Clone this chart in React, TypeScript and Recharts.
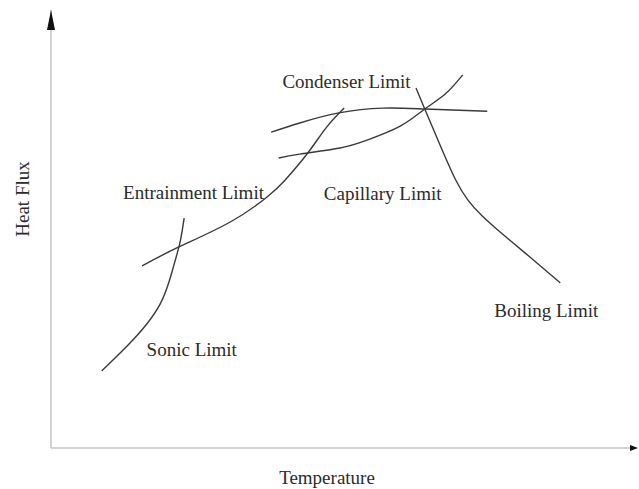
import React from 'react';
import {
  LineChart,
  Line,
  XAxis,
  YAxis,
  ReferenceDot,
  Label,
} from 'recharts';

// each limit curve (temperature 0-100, heat flux 0-100)
const sonicLimit = [
  { x: 8.7, y: 17.6 },
  { x: 13.2, y: 23.5 },
  { x: 16.4, y: 28.3 },
  { x: 18.7, y: 32.9 },
  { x: 20.2, y: 37.9 },
  { x: 21.2, y: 42.5 },
  { x: 22.1, y: 47.0 },
  { x: 22.8, y: 52.5 },
];

const entrainmentLimit = [
  { x: 15.6, y: 41.6 },
  { x: 21.9, y: 45.9 },
  { x: 30.7, y: 51.6 },
  { x: 37.0, y: 57.3 },
  { x: 40.1, y: 61.2 },
  { x: 44.0, y: 67.4 },
  { x: 47.1, y: 73.1 },
  { x: 50.2, y: 77.6 },
];

const condenserLimit = [
  { x: 37.7, y: 72.1 },
  { x: 42.6, y: 74.2 },
  { x: 49.3, y: 76.5 },
  { x: 56.8, y: 77.6 },
  { x: 64.0, y: 77.4 },
  { x: 74.7, y: 76.9 },
];

const capillaryLimit = [
  { x: 39.0, y: 66.2 },
  { x: 42.6, y: 67.1 },
  { x: 49.5, y: 68.5 },
  { x: 54.1, y: 70.3 },
  { x: 59.8, y: 73.5 },
  { x: 64.0, y: 77.4 },
  { x: 67.5, y: 80.8 },
  { x: 70.5, y: 85.2 },
];

const boilingLimit = [
  { x: 62.5, y: 82.2 },
  { x: 64.0, y: 77.4 },
  { x: 67.0, y: 68.0 },
  { x: 69.3, y: 61.2 },
  { x: 71.4, y: 56.6 },
  { x: 73.8, y: 53.0 },
  { x: 76.9, y: 49.3 },
  { x: 82.0, y: 43.6 },
  { x: 87.2, y: 37.7 },
];

const curveLabels = [
  { name: 'Condenser Limit', x: 50.6, y: 83.6 },
  { name: 'Entrainment Limit', x: 24.4, y: 58.4 },
  { name: 'Capillary Limit', x: 56.8, y: 58.2 },
  { name: 'Sonic Limit', x: 24.1, y: 22.6 },
  { name: 'Boiling Limit', x: 84.8, y: 31.5 },
];

const series = [sonicLimit, entrainmentLimit, condenserLimit, capillaryLimit, boilingLimit];

const FONT = '"Liberation Serif", "Times New Roman", serif';
const INK = '#2b2b2b';

const CurveLabel = ({ viewBox, value }: any) => {
  const cx = viewBox.x + viewBox.width / 2;
  const cy = viewBox.y + viewBox.height / 2;
  return (
    <text
      x={cx}
      y={cy}
      textAnchor='middle'
      dominantBaseline='central'
      fontFamily={FONT}
      fontSize={19}
      fill={INK}
    >
      {value}
    </text>
  );
};

export default function App() {
  return (
    <div style={{ position: 'absolute', left: 0, top: 0, background: '#fff' }}>
      <LineChart
        width={639}
        height={489}
        margin={{ top: 10, right: 4, bottom: 40, left: 50 }}
      >
        <defs>
          <marker
            id='arrowY'
            viewBox='0 0 20 8'
            refX={20}
            refY={4}
            markerWidth={20}
            markerHeight={8}
            markerUnits='userSpaceOnUse'
            orient='auto-start-reverse'
          >
            <path d='M0,0 L20,4 L0,8 Z' fill='#111' />
          </marker>
          <marker
            id='arrowX'
            viewBox='0 0 8 6'
            refX={5}
            refY={3}
            markerWidth={8}
            markerHeight={6}
            markerUnits='userSpaceOnUse'
            orient='auto'
          >
            <path d='M0,0 L8,3 L0,6 Z' fill='#111' />
          </marker>
        </defs>
        <XAxis
          type='number'
          dataKey='x'
          domain={[0, 100]}
          height={1}
          tick={false}
          tickLine={false}
          axisLine={{ stroke: '#c4c4c4', strokeWidth: 1.5, markerEnd: 'url(#arrowX)' }}
        >
          <Label
            content={() => (
              <text
                x={327}
                y={477}
                textAnchor='middle'
                dominantBaseline='central'
                fontFamily={FONT}
                fontSize={19}
                fill={INK}
              >
                Temperature
              </text>
            )}
          />
        </XAxis>
        <YAxis
          type='number'
          domain={[0, 100]}
          width={1}
          tick={false}
          tickLine={false}
          axisLine={{ stroke: '#c4c4c4', strokeWidth: 1.5, markerStart: 'url(#arrowY)' }}
        >
          <Label
            content={() => (
              <text
                x={22}
                y={199}
                transform='rotate(-90, 22, 199)'
                textAnchor='middle'
                dominantBaseline='central'
                fontFamily={FONT}
                fontSize={19}
                fill={INK}
              >
                Heat Flux
              </text>
            )}
          />
        </YAxis>
        {series.map((d, i) => (
          <Line
            key={i}
            data={d}
            dataKey='y'
            type='natural'
            stroke='#3a3a3a'
            strokeWidth={1.4}
            dot={false}
            activeDot={false}
            isAnimationActive={false}
          />
        ))}
        {curveLabels.map((l) => (
          <ReferenceDot
            key={l.name}
            x={l.x}
            y={l.y}
            r={0}
            fill='none'
            stroke='none'
            label={<CurveLabel value={l.name} />}
          />
        ))}
      </LineChart>
    </div>
  );
}
